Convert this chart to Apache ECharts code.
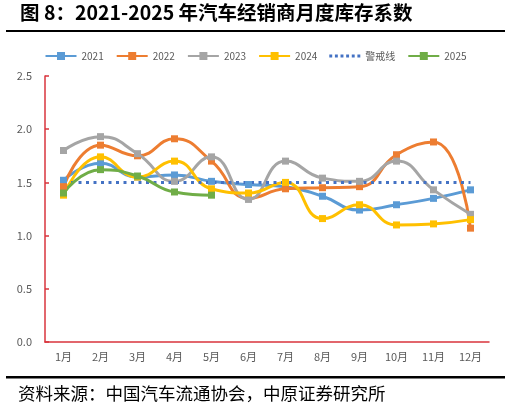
<!DOCTYPE html>
<html>
<head>
<meta charset="utf-8">
<script src="https://cdn.jsdelivr.net/npm/echarts@6/dist/echarts.min.js"></script>
<style>
  html, body { margin: 0; padding: 0; background: #fff; }
  #chart { width: 511px; height: 409px; }
</style>
</head>
<body>
<div id="chart"></div>
<script>
// months on the x axis
const months = ['1月', '2月', '3月', '4月', '5月', '6月', '7月', '8月', '9月', '10月', '11月', '12月'];

// inventory coefficient per year
const y2021 = [1.52, 1.68, 1.55, 1.57, 1.51, 1.48, 1.46, 1.37, 1.24, 1.29, 1.35, 1.43];
const y2022 = [1.46, 1.85, 1.75, 1.91, 1.70, 1.35, 1.44, 1.45, 1.46, 1.76, 1.88, 1.07];
const y2023 = [1.80, 1.93, 1.77, 1.51, 1.74, 1.34, 1.70, 1.54, 1.51, 1.70, 1.43, 1.20];
const y2024 = [1.38, 1.74, 1.55, 1.70, 1.44, 1.40, 1.50, 1.16, 1.29, 1.10, 1.11, 1.15];
const y2025 = [1.40, 1.62, 1.56, 1.41, 1.38];
const warnLine = [1.5, 1.5, 1.5, 1.5, 1.5, 1.5, 1.5, 1.5, 1.5, 1.5, 1.5, 1.5];

const yTicks = { min: 0, max: 2.5, interval: 0.5 };

const axisRed = '#D9343C';
const labelGrey = '#595959';
const fontCJK = '"Noto Sans CJK SC", "Noto Sans", sans-serif';

// dotted legend mark for the warning line
const dotsIcon = 'path://M0,0h3v3h-3z M5.8,0h3v3h-3z M11.6,0h3v3h-3z M17.4,0h3v3h-3z M23.2,0h3v3h-3z M29,0h3v3h-3z';

function lineSeries(name, data, color) {
  return {
    name: name,
    type: 'line',
    data: data,
    smooth: 0.5,
    symbol: 'rect',
    symbolSize: 7,
    showAllSymbol: true,
    lineStyle: { color: color, width: 3 },
    itemStyle: { color: color },
    emphasis: { disabled: true }
  };
}

const chart = echarts.init(document.getElementById('chart'));

chart.setOption({
  animation: false,
  backgroundColor: '#fff',
  textStyle: { fontFamily: fontCJK },
  graphic: [
    {
      type: 'text', left: 20, top: 3,
      style: { text: '图 8：2021-2025 年汽车经销商月度库存系数', font: 'bold 19.5px ' + fontCJK, fill: '#000' }
    },
    { type: 'rect', shape: { x: 6, y: 30, width: 499, height: 2 }, style: { fill: '#000' } },
    { type: 'rect', shape: { x: 6, y: 376, width: 499, height: 2.5 }, style: { fill: '#000' } },
    {
      type: 'text', left: 18, top: 385,
      style: { text: '资料来源：中国汽车流通协会，中原证券研究所', font: '17.5px ' + fontCJK, fill: '#000' }
    }
  ],
  legend: {
    top: 46,
    left: 'center',
    itemWidth: 31,
    itemHeight: 10,
    itemGap: 12,
    textStyle: { color: labelGrey, fontSize: 10 },
    data: ['2021', '2022', '2023', '2024', { name: '警戒线', icon: dotsIcon }, '2025']
  },
  grid: { left: 45, right: 22, top: 76, bottom: 67 },
  xAxis: {
    type: 'category',
    data: months,
    boundaryGap: true,
    axisLine: { lineStyle: { color: axisRed, width: 1.5 } },
    axisTick: { inside: true, length: 4, lineStyle: { color: axisRed, width: 1.5 } },
    axisLabel: { color: labelGrey, fontSize: 11, margin: 9 }
  },
  yAxis: {
    type: 'value',
    min: yTicks.min,
    max: yTicks.max,
    interval: yTicks.interval,
    axisLine: { show: true, lineStyle: { color: axisRed, width: 1.5 } },
    axisTick: { show: true, inside: true, length: 4, lineStyle: { color: axisRed, width: 1.5 } },
    axisLabel: { color: labelGrey, fontSize: 11, margin: 13, formatter: v => v.toFixed(1) },
    splitLine: { show: false }
  },
  series: [
    lineSeries('2021', y2021, '#5B9BD5'),
    lineSeries('2022', y2022, '#ED7D31'),
    lineSeries('2023', y2023, '#A5A5A5'),
    lineSeries('2024', y2024, '#FFC000'),
    {
      name: '警戒线',
      type: 'line',
      data: warnLine,
      symbol: 'none',
      lineStyle: { color: '#4472C4', width: 3, type: [3, 4.5] },
      itemStyle: { color: '#4472C4' },
      emphasis: { disabled: true }
    },
    lineSeries('2025', y2025, '#70AD47')
  ]
});
</script>
</body>
</html>
